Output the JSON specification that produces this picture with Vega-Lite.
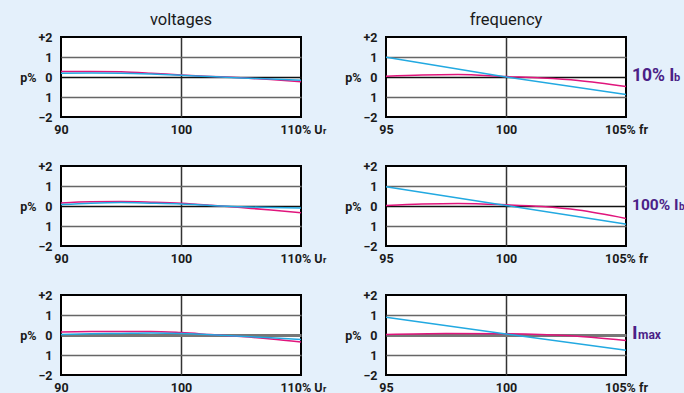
{
  "$schema": "https://vega.github.io/schema/vega-lite/v6.json",
  "autosize": {"type": "none"},
  "padding": {"left": 61, "top": 37, "right": 623, "bottom": 356},
  "background": "#e4f0fb",
  "bounds": "flush",
  "columns": 2,
  "spacing": {"row": 49, "column": 85},
  "config": {
    "view": {"stroke": "#000000", "strokeWidth": 2, "fill": "#ffffff"},
    "axis": {"ticks": false, "domain": false, "labelFlush": false, "labelFont": "Roboto", "labelFontWeight": "bold", "labelFontSize": 12.5, "labelColor": "#1a1a1a", "titleFont": "Roboto", "titleFontWeight": "bold", "titleFontSize": 12.5, "titleColor": "#1a1a1a"}
  },
  "datasets": {
    "L1": [
      {"s": "a", "x": 90, "p": 0.27}, {"s": "a", "x": 92.5, "p": 0.28}, {"s": "a", "x": 95, "p": 0.26}, {"s": "a", "x": 97.5, "p": 0.19}, {"s": "a", "x": 100, "p": 0.1}, {"s": "a", "x": 102.5, "p": 0.03}, {"s": "a", "x": 105, "p": -0.04}, {"s": "a", "x": 107.5, "p": -0.13}, {"s": "a", "x": 110, "p": -0.24},
      {"s": "b", "x": 90, "p": 0.19}, {"s": "b", "x": 92.5, "p": 0.2}, {"s": "b", "x": 95, "p": 0.19}, {"s": "b", "x": 97.5, "p": 0.15}, {"s": "b", "x": 100, "p": 0.09}, {"s": "b", "x": 102.5, "p": 0.02}, {"s": "b", "x": 105, "p": -0.05}, {"s": "b", "x": 107.5, "p": -0.1}, {"s": "b", "x": 110, "p": -0.16}
    ],
    "L2": [
      {"s": "a", "x": 90, "p": 0.15}, {"s": "a", "x": 92.5, "p": 0.21}, {"s": "a", "x": 95, "p": 0.22}, {"s": "a", "x": 97.5, "p": 0.19}, {"s": "a", "x": 100, "p": 0.14}, {"s": "a", "x": 102.5, "p": 0.04}, {"s": "a", "x": 105, "p": -0.08}, {"s": "a", "x": 107.5, "p": -0.2}, {"s": "a", "x": 110, "p": -0.34},
      {"s": "b", "x": 90, "p": 0.07}, {"s": "b", "x": 92.5, "p": 0.14}, {"s": "b", "x": 95, "p": 0.17}, {"s": "b", "x": 97.5, "p": 0.14}, {"s": "b", "x": 100, "p": 0.1}, {"s": "b", "x": 102.5, "p": 0.03}, {"s": "b", "x": 105, "p": -0.04}, {"s": "b", "x": 107.5, "p": -0.07}, {"s": "b", "x": 110, "p": -0.1}
    ],
    "L3": [
      {"s": "a", "x": 90, "p": 0.15}, {"s": "a", "x": 92.5, "p": 0.17}, {"s": "a", "x": 95, "p": 0.18}, {"s": "a", "x": 97.5, "p": 0.18}, {"s": "a", "x": 100, "p": 0.12}, {"s": "a", "x": 102.5, "p": 0.02}, {"s": "a", "x": 105, "p": -0.08}, {"s": "a", "x": 107.5, "p": -0.2}, {"s": "a", "x": 110, "p": -0.35},
      {"s": "b", "x": 90, "p": 0.02}, {"s": "b", "x": 92.5, "p": 0.06}, {"s": "b", "x": 95, "p": 0.08}, {"s": "b", "x": 97.5, "p": 0.1}, {"s": "b", "x": 100, "p": 0.08}, {"s": "b", "x": 102.5, "p": 0.01}, {"s": "b", "x": 105, "p": -0.06}, {"s": "b", "x": 107.5, "p": -0.14}, {"s": "b", "x": 110, "p": -0.23}
    ],
    "R1": [
      {"s": "a", "x": 95, "p": 0.04}, {"s": "a", "x": 96.5, "p": 0.1}, {"s": "a", "x": 98, "p": 0.12}, {"s": "a", "x": 100, "p": 0.02}, {"s": "a", "x": 101.5, "p": -0.05}, {"s": "a", "x": 103, "p": -0.17}, {"s": "a", "x": 105, "p": -0.47},
      {"s": "b", "x": 95, "p": 0.99}, {"s": "b", "x": 100, "p": 0.0}, {"s": "b", "x": 105, "p": -0.88}
    ],
    "R2": [
      {"s": "a", "x": 95, "p": 0.03}, {"s": "a", "x": 96.5, "p": 0.1}, {"s": "a", "x": 98, "p": 0.13}, {"s": "a", "x": 100, "p": 0.06}, {"s": "a", "x": 101.5, "p": -0.03}, {"s": "a", "x": 103, "p": -0.2}, {"s": "a", "x": 105, "p": -0.62},
      {"s": "b", "x": 95, "p": 0.96}, {"s": "b", "x": 100, "p": 0.03}, {"s": "b", "x": 105, "p": -0.91}
    ],
    "R3": [
      {"s": "a", "x": 95, "p": 0.03}, {"s": "a", "x": 97.5, "p": 0.08}, {"s": "a", "x": 100, "p": 0.06}, {"s": "a", "x": 102.5, "p": -0.03}, {"s": "a", "x": 105, "p": -0.28},
      {"s": "b", "x": 95, "p": 0.89}, {"s": "b", "x": 100, "p": 0.05}, {"s": "b", "x": 105, "p": -0.76}
    ]
  },
  "concat": [
    {
      "width": 240, "height": 80,
      "title": {"text": "voltages", "font": "Roboto", "fontSize": 16.5, "fontWeight": "normal", "color": "#1a1a1a", "anchor": "middle", "offset": 3},
      "resolve": {"axis": {"x": "independent", "y": "independent"}},
      "layer": [
        {"data": {"name": "L1"}, "mark": {"type": "line", "strokeWidth": 1.5, "interpolate": "monotone"}, "encoding": {
          "x": {"field": "x", "type": "quantitative", "scale": {"domain": [90, 110], "nice": false, "zero": false}, "axis": {"values": [90, 100, 110], "labelExpr": "datum.value == 110 ? '110% U' : datum.label", "labelPadding": 6, "title": null, "grid": true, "gridColor": "#333333", "gridWidth": 1.5, "gridOpacity": {"condition": {"test": "datum.value != 100", "value": 0}, "value": 1}}},
          "y": {"field": "p", "type": "quantitative", "scale": {"domain": [-2, 2], "nice": false}, "axis": {"values": [-2, -1, 0, 1, 2], "labelExpr": "datum.value == 2 ? '+2' : datum.value == -2 ? '−2' : datum.value == 0 ? '0' : '1'", "labelPadding": 9, "title": "p%", "titleAngle": 0, "titleAlign": "right", "titleBaseline": "middle", "titleX": -25, "titleY": 40, "grid": true, "gridColor": {"condition": {"test": "datum.value == 0", "value": "#111111"}, "value": "#666666"}, "gridWidth": 1.5, "gridOpacity": {"condition": {"test": "abs(datum.value) == 2", "value": 0}, "value": 1}}},
          "color": {"field": "s", "type": "nominal", "scale": {"domain": ["a", "b"], "range": ["#e0157c", "#22a9e1"]}, "legend": null}}},
        {"data": {"values": [{}]}, "mark": {"type": "text", "text": "r", "align": "left", "baseline": "alphabetic", "dx": 22, "dy": 17, "font": "Roboto", "fontWeight": "bold", "fontSize": 9, "color": "#1a1a1a"}, "encoding": {"x": {"datum": 110, "type": "quantitative", "axis": null}, "y": {"datum": -2, "type": "quantitative", "axis": null}}}
      ]
    },
    {
      "width": 240, "height": 80,
      "title": {"text": "frequency", "font": "Roboto", "fontSize": 16.5, "fontWeight": "normal", "color": "#1a1a1a", "anchor": "middle", "offset": 3},
      "resolve": {"axis": {"x": "independent", "y": "independent"}},
      "layer": [
        {"data": {"name": "R1"}, "mark": {"type": "line", "strokeWidth": 1.5, "interpolate": "monotone"}, "encoding": {
          "x": {"field": "x", "type": "quantitative", "scale": {"domain": [95, 105], "nice": false, "zero": false}, "axis": {"values": [95, 100, 105], "labelExpr": "datum.value == 105 ? '105% fr' : datum.label", "labelPadding": 6, "title": null, "grid": true, "gridColor": "#333333", "gridWidth": 1.5, "gridOpacity": {"condition": {"test": "datum.value != 100", "value": 0}, "value": 1}}},
          "y": {"field": "p", "type": "quantitative", "scale": {"domain": [-2, 2], "nice": false}, "axis": {"values": [-2, -1, 0, 1, 2], "labelExpr": "datum.value == 2 ? '+2' : datum.value == -2 ? '−2' : datum.value == 0 ? '0' : '1'", "labelPadding": 9, "title": "p%", "titleAngle": 0, "titleAlign": "right", "titleBaseline": "middle", "titleX": -25, "titleY": 40, "grid": true, "gridColor": {"condition": {"test": "datum.value == 0", "value": "#111111"}, "value": "#666666"}, "gridWidth": 1.5, "gridOpacity": {"condition": {"test": "abs(datum.value) == 2", "value": 0}, "value": 1}}},
          "color": {"field": "s", "type": "nominal", "scale": {"domain": ["a", "b"], "range": ["#e0157c", "#22a9e1"]}, "legend": null}}},
        {"data": {"values": [{}]}, "mark": {"type": "text", "text": "10% I", "align": "left", "baseline": "alphabetic", "dx": 6, "dy": 4, "font": "Roboto", "fontWeight": "bold", "fontSize": 17.5, "color": "#4b1f87"}, "encoding": {"x": {"datum": 105, "type": "quantitative", "axis": null}, "y": {"datum": 0, "type": "quantitative", "axis": null}}},
        {"data": {"values": [{}]}, "mark": {"type": "text", "text": "b", "align": "left", "baseline": "alphabetic", "dx": 48, "dy": 4, "font": "Roboto", "fontWeight": "bold", "fontSize": 11, "color": "#4b1f87"}, "encoding": {"x": {"datum": 105, "type": "quantitative", "axis": null}, "y": {"datum": 0, "type": "quantitative", "axis": null}}}
      ]
    },
    {
      "width": 240, "height": 80,
      "resolve": {"axis": {"x": "independent", "y": "independent"}},
      "layer": [
        {"data": {"name": "L2"}, "mark": {"type": "line", "strokeWidth": 1.5, "interpolate": "monotone"}, "encoding": {
          "x": {"field": "x", "type": "quantitative", "scale": {"domain": [90, 110], "nice": false, "zero": false}, "axis": {"values": [90, 100, 110], "labelExpr": "datum.value == 110 ? '110% U' : datum.label", "labelPadding": 6, "title": null, "grid": true, "gridColor": "#333333", "gridWidth": 1.5, "gridOpacity": {"condition": {"test": "datum.value != 100", "value": 0}, "value": 1}}},
          "y": {"field": "p", "type": "quantitative", "scale": {"domain": [-2, 2], "nice": false}, "axis": {"values": [-2, -1, 0, 1, 2], "labelExpr": "datum.value == 2 ? '+2' : datum.value == -2 ? '−2' : datum.value == 0 ? '0' : '1'", "labelPadding": 9, "title": "p%", "titleAngle": 0, "titleAlign": "right", "titleBaseline": "middle", "titleX": -25, "titleY": 40, "grid": true, "gridColor": {"condition": {"test": "datum.value == 0", "value": "#111111"}, "value": "#666666"}, "gridWidth": 1.5, "gridOpacity": {"condition": {"test": "abs(datum.value) == 2", "value": 0}, "value": 1}}},
          "color": {"field": "s", "type": "nominal", "scale": {"domain": ["a", "b"], "range": ["#e0157c", "#22a9e1"]}, "legend": null}}},
        {"data": {"values": [{}]}, "mark": {"type": "text", "text": "r", "align": "left", "baseline": "alphabetic", "dx": 22, "dy": 17, "font": "Roboto", "fontWeight": "bold", "fontSize": 9, "color": "#1a1a1a"}, "encoding": {"x": {"datum": 110, "type": "quantitative", "axis": null}, "y": {"datum": -2, "type": "quantitative", "axis": null}}}
      ]
    },
    {
      "width": 240, "height": 80,
      "resolve": {"axis": {"x": "independent", "y": "independent"}},
      "layer": [
        {"data": {"name": "R2"}, "mark": {"type": "line", "strokeWidth": 1.5, "interpolate": "monotone"}, "encoding": {
          "x": {"field": "x", "type": "quantitative", "scale": {"domain": [95, 105], "nice": false, "zero": false}, "axis": {"values": [95, 100, 105], "labelExpr": "datum.value == 105 ? '105% fr' : datum.label", "labelPadding": 6, "title": null, "grid": true, "gridColor": "#333333", "gridWidth": 1.5, "gridOpacity": {"condition": {"test": "datum.value != 100", "value": 0}, "value": 1}}},
          "y": {"field": "p", "type": "quantitative", "scale": {"domain": [-2, 2], "nice": false}, "axis": {"values": [-2, -1, 0, 1, 2], "labelExpr": "datum.value == 2 ? '+2' : datum.value == -2 ? '−2' : datum.value == 0 ? '0' : '1'", "labelPadding": 9, "title": "p%", "titleAngle": 0, "titleAlign": "right", "titleBaseline": "middle", "titleX": -25, "titleY": 40, "grid": true, "gridColor": {"condition": {"test": "datum.value == 0", "value": "#111111"}, "value": "#666666"}, "gridWidth": 1.5, "gridOpacity": {"condition": {"test": "abs(datum.value) == 2", "value": 0}, "value": 1}}},
          "color": {"field": "s", "type": "nominal", "scale": {"domain": ["a", "b"], "range": ["#e0157c", "#22a9e1"]}, "legend": null}}},
        {"data": {"values": [{}]}, "mark": {"type": "text", "text": "100% I", "align": "left", "baseline": "alphabetic", "dx": 6, "dy": 4, "font": "Roboto", "fontWeight": "bold", "fontSize": 15.5, "color": "#4b1f87"}, "encoding": {"x": {"datum": 105, "type": "quantitative", "axis": null}, "y": {"datum": 0, "type": "quantitative", "axis": null}}},
        {"data": {"values": [{}]}, "mark": {"type": "text", "text": "b", "align": "left", "baseline": "alphabetic", "dx": 53, "dy": 4, "font": "Roboto", "fontWeight": "bold", "fontSize": 10, "color": "#4b1f87"}, "encoding": {"x": {"datum": 105, "type": "quantitative", "axis": null}, "y": {"datum": 0, "type": "quantitative", "axis": null}}}
      ]
    },
    {
      "width": 240, "height": 80,
      "resolve": {"axis": {"x": "independent", "y": "independent"}},
      "layer": [
        {"data": {"name": "L3"}, "mark": {"type": "line", "strokeWidth": 1.5, "interpolate": "monotone"}, "encoding": {
          "x": {"field": "x", "type": "quantitative", "scale": {"domain": [90, 110], "nice": false, "zero": false}, "axis": {"values": [90, 100, 110], "labelExpr": "datum.value == 110 ? '110% U' : datum.label", "labelPadding": 6, "title": null, "grid": true, "gridColor": "#333333", "gridWidth": 1.5, "gridOpacity": {"condition": {"test": "datum.value != 100", "value": 0}, "value": 1}}},
          "y": {"field": "p", "type": "quantitative", "scale": {"domain": [-2, 2], "nice": false}, "axis": {"values": [-2, -1, 0, 1, 2], "labelExpr": "datum.value == 2 ? '+2' : datum.value == -2 ? '−2' : datum.value == 0 ? '0' : '1'", "labelPadding": 9, "title": "p%", "titleAngle": 0, "titleAlign": "right", "titleBaseline": "middle", "titleX": -25, "titleY": 40, "grid": true, "gridColor": {"condition": {"test": "datum.value == 0", "value": "#777777"}, "value": "#666666"}, "gridWidth": {"condition": {"test": "datum.value == 0", "value": 3}, "value": 1.5}, "gridOpacity": {"condition": {"test": "abs(datum.value) == 2", "value": 0}, "value": 1}}},
          "color": {"field": "s", "type": "nominal", "scale": {"domain": ["a", "b"], "range": ["#e0157c", "#22a9e1"]}, "legend": null}}},
        {"data": {"values": [{}]}, "mark": {"type": "text", "text": "r", "align": "left", "baseline": "alphabetic", "dx": 22, "dy": 17, "font": "Roboto", "fontWeight": "bold", "fontSize": 9, "color": "#1a1a1a"}, "encoding": {"x": {"datum": 110, "type": "quantitative", "axis": null}, "y": {"datum": -2, "type": "quantitative", "axis": null}}}
      ]
    },
    {
      "width": 240, "height": 80,
      "resolve": {"axis": {"x": "independent", "y": "independent"}},
      "layer": [
        {"data": {"name": "R3"}, "mark": {"type": "line", "strokeWidth": 1.5, "interpolate": "monotone"}, "encoding": {
          "x": {"field": "x", "type": "quantitative", "scale": {"domain": [95, 105], "nice": false, "zero": false}, "axis": {"values": [95, 100, 105], "labelExpr": "datum.value == 105 ? '105% fr' : datum.label", "labelPadding": 6, "title": null, "grid": true, "gridColor": "#333333", "gridWidth": 1.5, "gridOpacity": {"condition": {"test": "datum.value != 100", "value": 0}, "value": 1}}},
          "y": {"field": "p", "type": "quantitative", "scale": {"domain": [-2, 2], "nice": false}, "axis": {"values": [-2, -1, 0, 1, 2], "labelExpr": "datum.value == 2 ? '+2' : datum.value == -2 ? '−2' : datum.value == 0 ? '0' : '1'", "labelPadding": 9, "title": "p%", "titleAngle": 0, "titleAlign": "right", "titleBaseline": "middle", "titleX": -25, "titleY": 40, "grid": true, "gridColor": {"condition": {"test": "datum.value == 0", "value": "#777777"}, "value": "#666666"}, "gridWidth": {"condition": {"test": "datum.value == 0", "value": 3}, "value": 1.5}, "gridOpacity": {"condition": {"test": "abs(datum.value) == 2", "value": 0}, "value": 1}}},
          "color": {"field": "s", "type": "nominal", "scale": {"domain": ["a", "b"], "range": ["#e0157c", "#22a9e1"]}, "legend": null}}},
        {"data": {"values": [{}]}, "mark": {"type": "text", "text": "I", "align": "left", "baseline": "alphabetic", "dx": 6, "dy": 4, "font": "Roboto", "fontWeight": "bold", "fontSize": 19, "color": "#4b1f87"}, "encoding": {"x": {"datum": 105, "type": "quantitative", "axis": null}, "y": {"datum": 0, "type": "quantitative", "axis": null}}},
        {"data": {"values": [{}]}, "mark": {"type": "text", "text": "max", "align": "left", "baseline": "alphabetic", "dx": 12, "dy": 4, "font": "Roboto", "fontWeight": "bold", "fontSize": 12, "color": "#4b1f87"}, "encoding": {"x": {"datum": 105, "type": "quantitative", "axis": null}, "y": {"datum": 0, "type": "quantitative", "axis": null}}}
      ]
    }
  ]
}
